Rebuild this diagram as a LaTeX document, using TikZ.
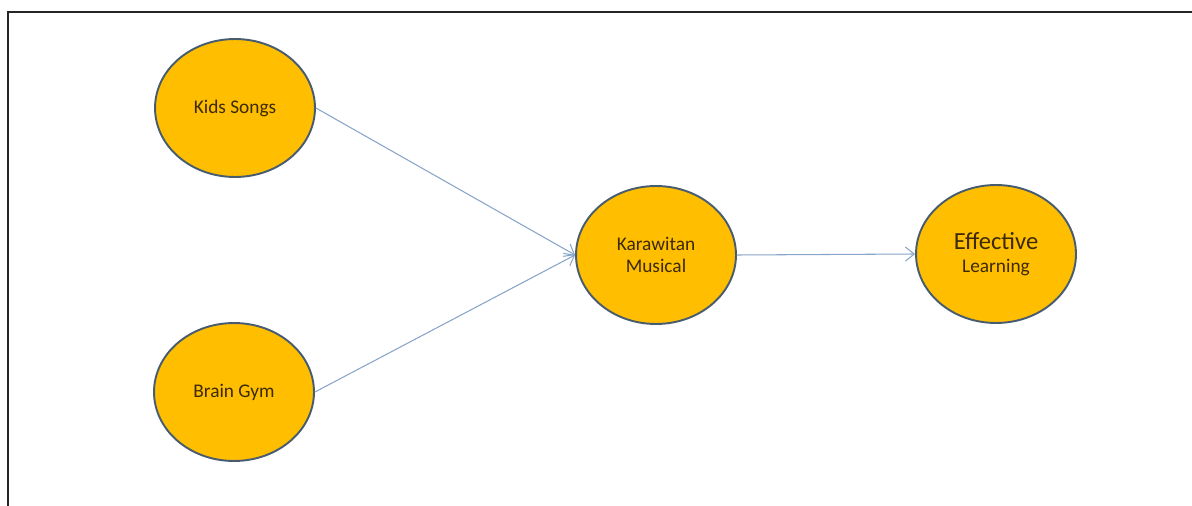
\documentclass[tikz,border=0pt]{standalone}
\usepackage{fontspec}
\setmainfont{Carlito}
\usepackage{tikz}
\usetikzlibrary{shapes.geometric, arrows.meta, positioning}
\definecolor{bubbleFill}{RGB}{255, 190, 0}
\definecolor{bubbleLine}{RGB}{72, 92, 112}
\definecolor{linkBlue}{RGB}{135, 165, 200}
\definecolor{labelBrown}{RGB}{60, 42, 8}

\begin{document}
\begin{tikzpicture}[x=0.02cm, y=-0.02cm,
    bubble/.style={ellipse, draw=bubbleLine, fill=bubbleFill, line width=1.1pt,
                   minimum width=3.2cm, minimum height=2.76cm, inner sep=0pt,
                   align=center, text=labelBrown, font=\fontsize{11}{13}\selectfont},
    link/.style={draw=linkBlue, line width=0.6pt, -{Straight Barb[length=5pt, width=8pt]}}]
    \useasboundingbox (0,0) rectangle (1192,506);
    % frame (top and left edges only)
    \draw[line width=1.2pt, black!85] (8,506) -- (8,12) -- (1192,12);

    \node[bubble] (kids) at (235,108) {Kids Songs};
    \node[bubble] (brain) at (234,392) {Brain Gym};
    \node[bubble] (karawitan) at (656,255) {Karawitan\\Musical};
    \node[bubble] (effective) at (996,254) {{\fontsize{14}{16}\selectfont Effective}\\Learning};

    \draw[link] (kids.east) -- (karawitan.west);
    \draw[link] (brain.east) -- (karawitan.west);
    \draw[link] (karawitan.east) -- (effective.west);
\end{tikzpicture}
\end{document}
